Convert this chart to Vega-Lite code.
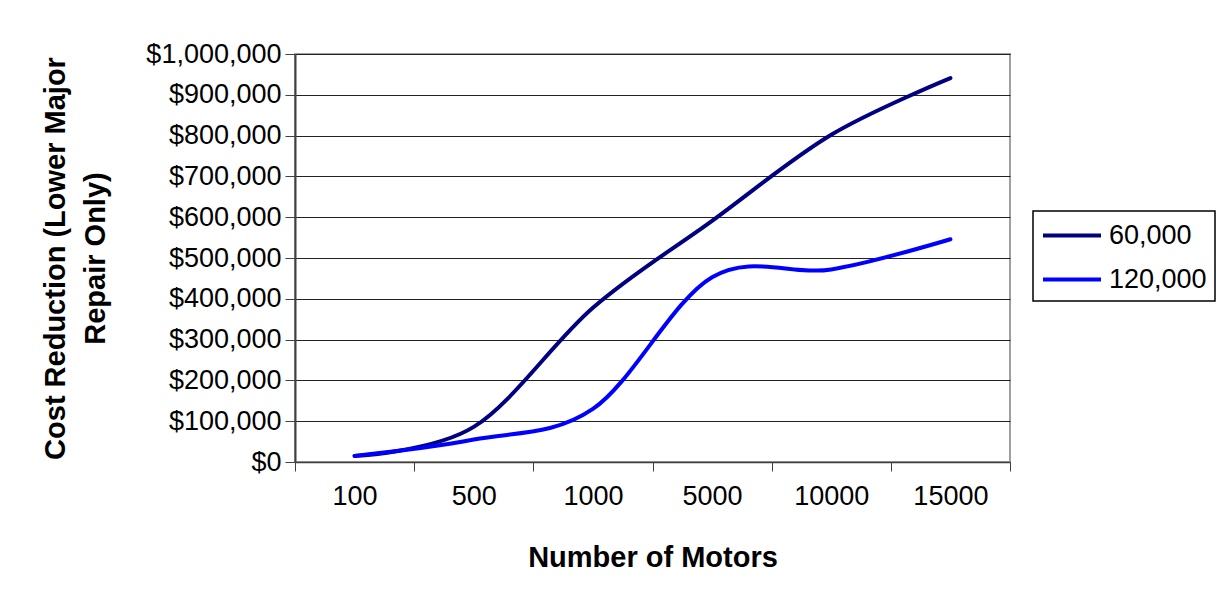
{
  "$schema": "https://vega.github.io/schema/vega-lite/v6.json",
  "autosize": {"type": "none"},
  "width": 715,
  "height": 408,
  "padding": {"left": 295, "top": 54, "right": 211, "bottom": 147},
  "background": "white",
  "data": {
    "values": [
      {"motors": "100", "series": "60,000", "cost": 15000},
      {"motors": "500", "series": "60,000", "cost": 86000},
      {"motors": "1000", "series": "60,000", "cost": 378000},
      {"motors": "5000", "series": "60,000", "cost": 591000},
      {"motors": "10000", "series": "60,000", "cost": 802000},
      {"motors": "15000", "series": "60,000", "cost": 941000},
      {"motors": "100", "series": "120,000", "cost": 15000},
      {"motors": "500", "series": "120,000", "cost": 55000},
      {"motors": "1000", "series": "120,000", "cost": 130000},
      {"motors": "5000", "series": "120,000", "cost": 453000},
      {"motors": "10000", "series": "120,000", "cost": 472000},
      {"motors": "15000", "series": "120,000", "cost": 546000}
    ]
  },
  "mark": {"type": "line", "interpolate": "cardinal", "tension": 0, "strokeWidth": 4, "strokeCap": "round", "strokeJoin": "round"},
  "encoding": {
    "x": {
      "field": "motors",
      "type": "ordinal",
      "sort": ["100", "500", "1000", "5000", "10000", "15000"],
      "bandPosition": 0.5,
      "scale": {"type": "band", "paddingInner": 0, "paddingOuter": 0},
      "axis": {
        "title": "Number of Motors",
        "labelAngle": 0,
        "tickBand": "extent",
        "tickSize": 9,
        "tickColor": "#404040",
        "domainColor": "#404040",
        "domainWidth": 1.5,
        "labelPadding": 12,
        "labelFont": "Liberation Sans",
        "labelFontSize": 27,
        "labelColor": "black",
        "titleFont": "Liberation Sans",
        "titleFontSize": 29,
        "titleFontWeight": "bold",
        "titleColor": "black",
        "titlePadding": 34,
        "grid": false
      }
    },
    "y": {
      "field": "cost",
      "type": "quantitative",
      "scale": {"domain": [0, 1000000], "nice": false},
      "axis": {
        "title": ["Cost Reduction (Lower Major", "Repair Only)"],
        "values": [0, 100000, 200000, 300000, 400000, 500000, 600000, 700000, 800000, 900000, 1000000],
        "format": "$,.0f",
        "tickSize": 10,
        "tickColor": "#404040",
        "domainColor": "#404040",
        "domainWidth": 2,
        "labelPadding": 4,
        "labelFont": "Liberation Sans",
        "labelFontSize": 27,
        "labelColor": "black",
        "titleFont": "Liberation Sans",
        "titleFontSize": 29,
        "titleFontWeight": "bold",
        "titleColor": "black",
        "titleLineHeight": 40,
        "titlePadding": 35,
        "grid": true,
        "gridColor": "#222222",
        "gridWidth": 1
      }
    },
    "color": {
      "field": "series",
      "type": "nominal",
      "sort": ["60,000", "120,000"],
      "scale": {"domain": ["60,000", "120,000"], "range": ["#000080", "#0000FF"]},
      "legend": {
        "title": null,
        "orient": "none",
        "legendX": 738,
        "legendY": 157,
        "strokeColor": "black",
        "fillColor": "white",
        "padding": 8,
        "rowPadding": 14,
        "symbolType": "M-1,0H3",
        "symbolSize": 841,
        "symbolStrokeWidth": 4,
        "labelFont": "Liberation Sans",
        "labelFontSize": 27,
        "labelColor": "black",
        "labelOffset": 35
      }
    }
  },
  "config": {
    "view": {"stroke": "#a0a0a0", "strokeWidth": 2},
    "legend": {"strokeWidth": 1.5}
  }
}
